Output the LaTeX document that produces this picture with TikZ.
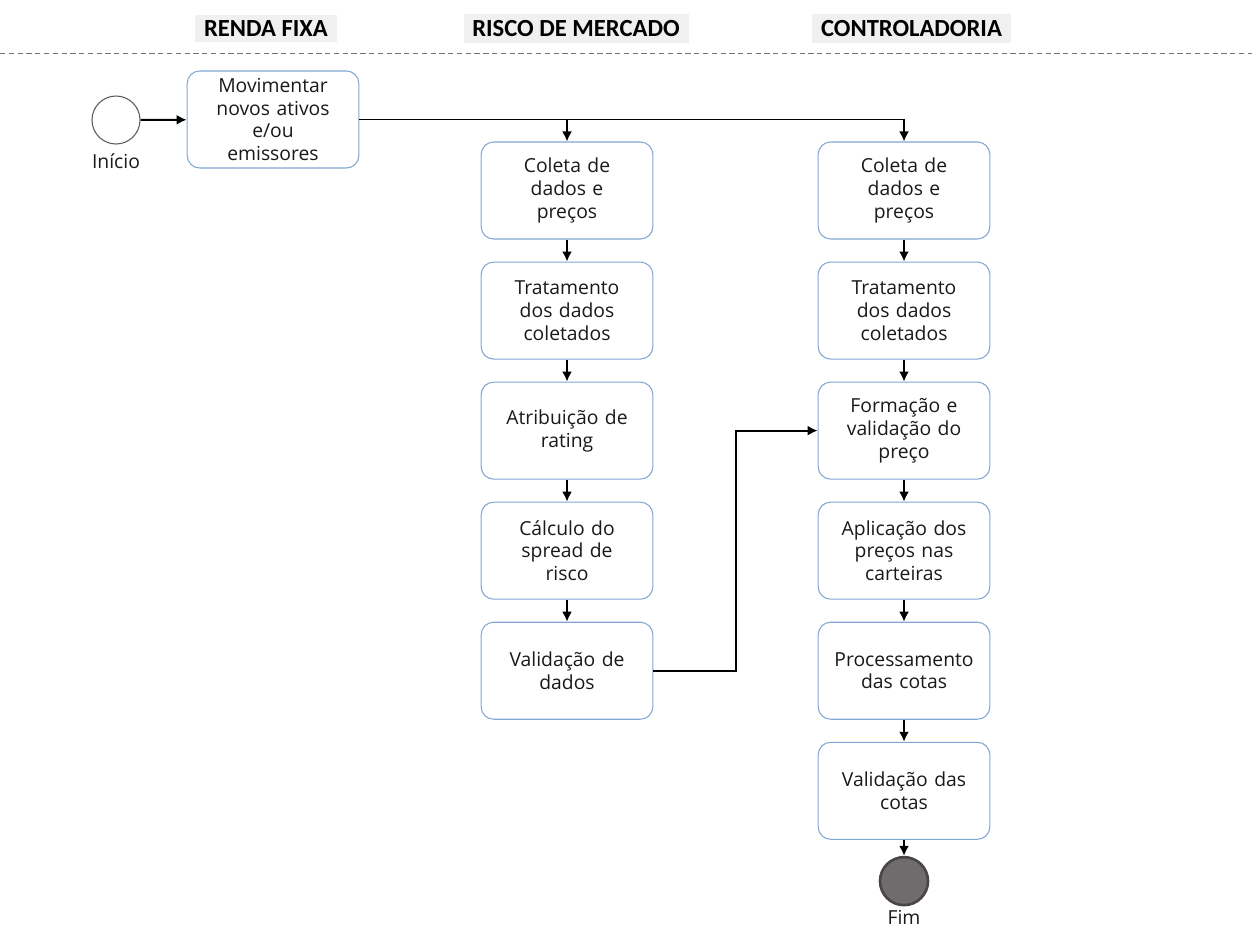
\documentclass[tikz,border=0pt]{standalone}
\usepackage{fontspec}
\setmainfont{Open Sans}
\newfontfamily\headfont{Carlito}
\usetikzlibrary{positioning,arrows.meta}

\definecolor{taskblue}{HTML}{7FA7D1}
\definecolor{lanegray}{HTML}{F0F0F0}
\definecolor{endgray}{HTML}{706B6C}
\definecolor{enddark}{HTML}{4A4546}

\begin{document}
\begin{tikzpicture}[
    every node/.style={
        font=\fontsize{11}{13}\selectfont,
        text=black!90
    },
    task/.style={
        rectangle, draw=taskblue,
        rounded corners=2.5mm,
        line width=0.6pt,
        minimum width=34mm, minimum height=19.4mm,
        text width=32mm, align=center
    },
    lane/.style={
        fill=lanegray, inner xsep=5pt,
        minimum height=5.4mm, text=black,
        font=\headfont\bfseries\fontsize{14}{16}\selectfont
    },
    event/.style={circle, minimum size=9.6mm},
    flow/.style={-{Latex[length=2mm,width=2mm]}, line width=1.1pt},
    node distance=4.4mm
]
\useasboundingbox (0,0) rectangle (25.04,-18.58);

% lanes
\node[lane] (rf) at (5.32,-0.57) {RENDA FIXA};
\node[lane] (rm) at (11.52,-0.57) {RISCO DE MERCADO};
\node[lane] (ct) at (18.23,-0.57) {CONTROLADORIA};
\draw[dashed, dash pattern=on 3pt off 2pt, black!55] (0,-1.06) -- (25.04,-1.06);

% renda fixa
\node[event, draw=black!65, line width=0.6pt,
      label={[label distance=0.5mm]below:Início}] (inicio) at (2.32,-2.4) {};
\node[task] (mov) at (5.46,-2.39) {Movimentar\\novos ativos\\e/ou\\emissores};

% risco de mercado
\node[task] (coletaR) at (11.34,-3.81) {Coleta de\\dados e\\preços};
\node[task, below=of coletaR] (tratR) {Tratamento\\dos dados\\coletados};
\node[task, below=of tratR] (rating) {Atribuição de\\rating};
\node[task, below=of rating] (spread) {Cálculo do\\spread de\\risco};
\node[task, below=of spread] (validR) {Validação de\\dados};

% controladoria
\node[task] (coletaC) at (18.08,-3.81) {Coleta de\\dados e\\preços};
\node[task, below=of coletaC] (tratC) {Tratamento\\dos dados\\coletados};
\node[task, below=of tratC] (preco) {Formação e\\validação do\\preço};
\node[task, below=of preco] (aplic) {Aplicação dos\\preços nas\\carteiras};
\node[task, below=of aplic] (cotas) {Processamento\\das cotas};
\node[task, below=of cotas] (valC) {Validação das\\cotas};
\node[event, fill=endgray, draw=enddark, line width=1.5pt,
      below=3.2mm of valC,
      label={[label distance=-0.5mm]below:Fim}] (fim) {};

% fluxos
\draw[flow] (inicio) -- (mov);
\draw[flow] (mov.east) -| (coletaC.north);
\draw[flow] (mov.east -| coletaR.north) -- (coletaR.north);
\foreach \a/\b in {coletaR/tratR, tratR/rating, rating/spread, spread/validR,
                   coletaC/tratC, tratC/preco, preco/aplic, aplic/cotas,
                   cotas/valC, valC/fim}
    \draw[flow] (\a) -- (\b);
\draw[flow] (validR.east) -- ++(1.66,0) |- (preco.west);
\end{tikzpicture}
\end{document}
